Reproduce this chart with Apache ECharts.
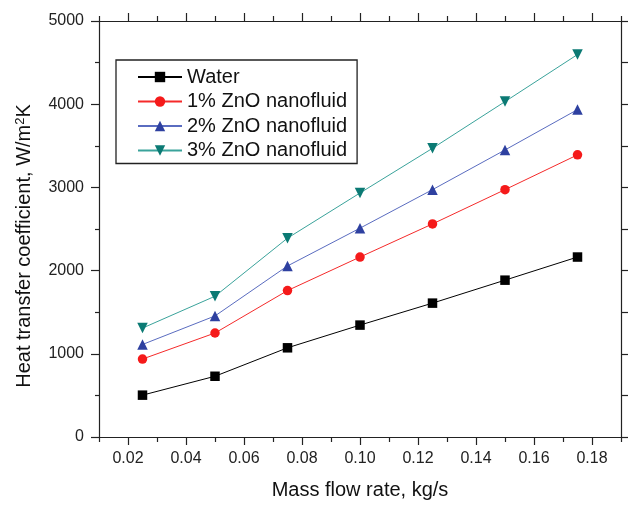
<!DOCTYPE html>
<html>
<head>
<meta charset="utf-8">
<script src="https://cdn.jsdelivr.net/npm/echarts@6/dist/echarts.min.js"></script>
<style>
html,body{margin:0;padding:0;background:#fff;}
#chart{width:628px;height:505px;}
</style>
</head>
<body>
<div id="chart"></div>
<script>
const massFlow = [0.025, 0.05, 0.075, 0.10, 0.125, 0.15, 0.175];
const water = [503, 730, 1072, 1345, 1609, 1885, 2163];
const zno1 = [937, 1250, 1760, 2163, 2561, 2973, 3391];
const zno2 = [1112, 1455, 2056, 2510, 2973, 3450, 3935];
const zno3 = [1309, 1692, 2390, 2933, 3470, 4031, 4597];
const seriesNames = ['Water', '1% ZnO nanofluid', '2% ZnO nanofluid', '3% ZnO nanofluid'];
const majorXTicks = [0.02, 0.04, 0.06, 0.08, 0.10, 0.12, 0.14, 0.16, 0.18];
const minorXTicks = [0.01, 0.03, 0.05, 0.07, 0.09, 0.11, 0.13, 0.15, 0.17, 0.19];

const FONT = "'Liberation Sans', Arial, sans-serif";
const pairs = arr => massFlow.map((x, i) => [x, arr[i]]);

const axisLineStyle = {show: true, lineStyle: {color: '#222', width: 1.2}};
function xAx(position, ticks, len, showLine, showLabel) {
  return {
    type: 'value', min: 0.01, max: 0.19, interval: 0.01, position: position,
    axisLine: showLine ? axisLineStyle : {show: false},
    axisTick: {show: true, inside: false, length: len, customValues: ticks, lineStyle: {color: '#222', width: 1.2}},
    axisLabel: showLabel ? {show: true, customValues: majorXTicks, formatter: v => v.toFixed(2), fontFamily: FONT, fontSize: 16, color: '#222', margin: 14} : {show: false},
    splitLine: {show: false}
  };
}

const xAxes = [
  Object.assign(xAx('bottom', majorXTicks, 8, true, true), {
    name: 'Mass flow rate, kg/s', nameLocation: 'middle', nameGap: 43,
    nameTextStyle: {fontFamily: FONT, fontSize: 20, color: '#111'}
  }),
  xAx('bottom', minorXTicks, 5, false, false),
  xAx('top', majorXTicks, 8, true, false),
  xAx('top', minorXTicks, 5, false, false)
];

const yAxes = [
  {
    type: 'value', min: 0, max: 5000, interval: 1000, position: 'left',
    axisLine: axisLineStyle,
    axisTick: {show: true, inside: false, length: 8, lineStyle: {color: '#222', width: 1.2}},
    minorTick: {show: true, splitNumber: 2, length: 4, lineStyle: {color: '#222', width: 1.2}},
    axisLabel: {fontFamily: FONT, fontSize: 16, color: '#222', margin: 15, formatter: v => String(v)},
    splitLine: {show: false}, minorSplitLine: {show: false},
    name: '{a|Heat transfer coefficient, W/m}{s|2}{a|K}',
    nameLocation: 'middle', nameGap: 64, nameRotate: 90,
    nameTextStyle: {
      padding: [0, 34, 0, 0],
      rich: {
        a: {fontFamily: FONT, fontSize: 20, color: '#111'},
        s: {fontFamily: FONT, fontSize: 13, color: '#111', verticalAlign: 'top', padding: [0, 0, 8, 0]}
      }
    }
  },
  {
    type: 'value', min: 0, max: 5000, interval: 500, position: 'right',
    axisLine: axisLineStyle,
    axisTick: {show: true, inside: false, length: 7, lineStyle: {color: '#222', width: 1.2}},
    axisLabel: {show: false},
    splitLine: {show: false}
  }
];

const downTri = 'path://M0,0 L10,0 L5,9 Z';
const styles = [
  {symbol: 'rect', size: 9.5, marker: '#000000', line: '#000000'},
  {symbol: 'circle', size: 9.5, marker: '#f51a1a', line: '#f52a2a'},
  {symbol: 'triangle', size: 10.5, marker: '#2e40a0', line: '#5a6cc0'},
  {symbol: downTri, size: 10.5, marker: '#0b7a74', line: '#3aa39b'}
];
const datasets = [water, zno1, zno2, zno3];

const series = datasets.map((d, i) => ({
  name: seriesNames[i], type: 'line', xAxisIndex: 0, yAxisIndex: 0,
  data: pairs(d),
  symbol: styles[i].symbol, symbolSize: styles[i].size,
  itemStyle: {color: styles[i].marker},
  lineStyle: {color: styles[i].line, width: 1},
  showSymbol: true
}));

const chart = echarts.init(document.getElementById('chart'));
chart.setOption({
  animation: false,
  backgroundColor: '#fff',
  grid: {left: 99, right: 7, top: 21, bottom: 62, containLabel: false},
  legend: {
    orient: 'vertical', left: 116, top: 60,
    borderColor: '#222', borderWidth: 1.3,
    padding: [7, 10, 3, 21],
    itemWidth: 44, itemHeight: 13, itemGap: 4.5,
    textStyle: {fontFamily: FONT, fontSize: 20, color: '#111'},
    data: seriesNames
  },
  xAxis: xAxes,
  yAxis: yAxes,
  series: series
});
</script>
</body>
</html>
